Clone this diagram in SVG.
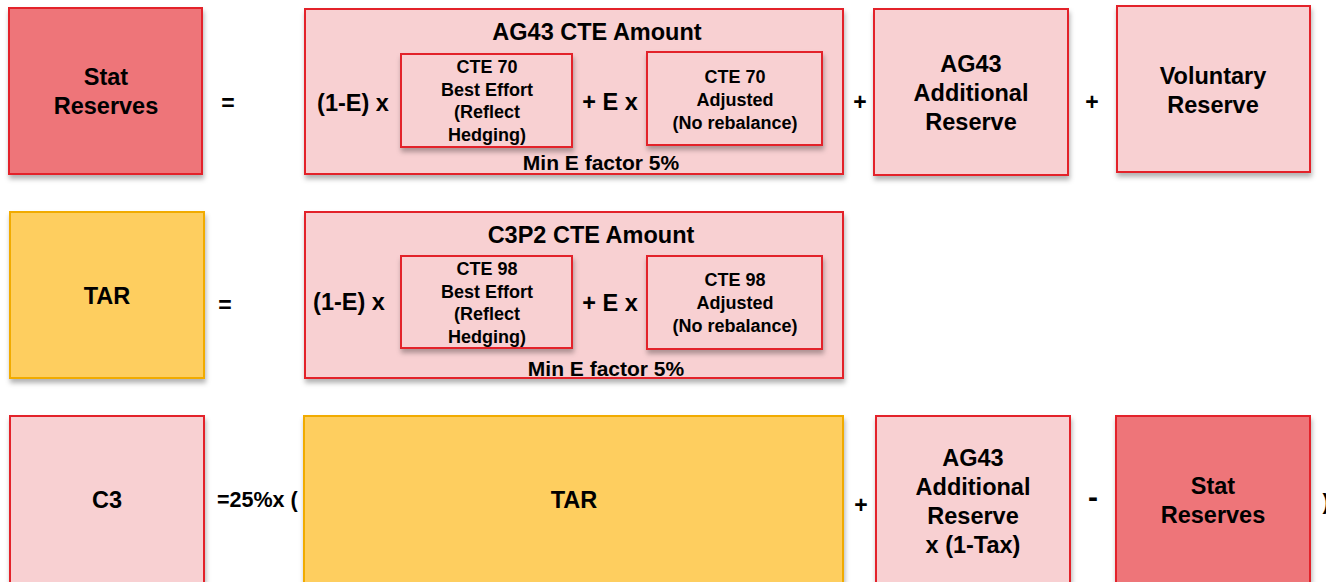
<svg xmlns="http://www.w3.org/2000/svg" width="1326" height="582" viewBox="0 0 1326 582">
<defs>
<filter id="sh" x="-10%" y="-10%" width="120%" height="130%">
<feDropShadow dx="1" dy="4" stdDeviation="2.5" flood-color="#000" flood-opacity="0.3"/>
</filter>
</defs>
<style>
text{font-family:"Liberation Sans",Arial,sans-serif;font-weight:bold;fill:#000;text-anchor:middle}
.dark{fill:#EE7579;stroke:#E3202A;stroke-width:2;filter:url(#sh)}
.light{fill:#F8D0D2;stroke:#E3202A;stroke-width:2;filter:url(#sh)}
.yel{fill:#FECE5F;stroke:#F1AB00;stroke-width:2;filter:url(#sh)}
.big{font-size:23.5px}
.mid{font-size:23.5px}
.sm{font-size:18px}
.min{font-size:21px}
.op{font-size:23px}
</style>
<rect width="1326" height="582" fill="#fff"/>

<!-- Row 1 -->
<g id="stat-reserves-1">
<rect class="dark" x="9" y="8" width="193" height="166"/>
<text class="big" x="106" y="85">Stat</text>
<text class="big" x="106" y="114">Reserves</text>
</g>
<g id="ag43-cte">
<rect class="light" x="305" y="9" width="538" height="165"/>
<text class="big" x="597" y="40">AG43 CTE Amount</text>
<text class="mid" x="353" y="111">(1-E) x</text>
<text class="mid" x="610" y="110">+ E x</text>
<text class="min" x="601" y="170">Min E factor 5%</text>
</g>
<g id="cte70-best">
<rect class="light" x="401" y="54" width="171" height="93"/>
<text class="sm" x="487" y="73">CTE 70</text>
<text class="sm" x="487" y="96">Best Effort</text>
<text class="sm" x="487" y="118">(Reflect</text>
<text class="sm" x="487" y="141">Hedging)</text>
</g>
<g id="cte70-adj">
<rect class="light" x="647" y="52" width="175" height="93"/>
<text class="sm" x="735" y="83">CTE 70</text>
<text class="sm" x="735" y="106">Adjusted</text>
<text class="sm" x="735" y="129">(No rebalance)</text>
</g>
<g id="ag43-additional-1">
<rect class="light" x="874" y="9" width="194" height="166"/>
<text class="big" x="971" y="72">AG43</text>
<text class="big" x="971" y="101">Additional</text>
<text class="big" x="971" y="130">Reserve</text>
</g>
<g id="voluntary-reserve">
<rect class="light" x="1117" y="6" width="193" height="166"/>
<text class="big" x="1213" y="84">Voluntary</text>
<text class="big" x="1213" y="113">Reserve</text>
</g>

<!-- Row 2 -->
<g id="tar-1">
<rect class="yel" x="10" y="212" width="194" height="166"/>
<text class="big" x="107" y="304">TAR</text>
</g>
<g id="c3p2-cte">
<rect class="light" x="305" y="212" width="538" height="166"/>
<text class="big" x="591" y="243">C3P2 CTE Amount</text>
<text class="mid" x="349" y="310">(1-E) x</text>
<text class="mid" x="610" y="311">+ E x</text>
<text class="min" x="606" y="376">Min E factor 5%</text>
</g>
<g id="cte98-best">
<rect class="light" x="401" y="256" width="171" height="92"/>
<text class="sm" x="487" y="275">CTE 98</text>
<text class="sm" x="487" y="298">Best Effort</text>
<text class="sm" x="487" y="320">(Reflect</text>
<text class="sm" x="487" y="343">Hedging)</text>
</g>
<g id="cte98-adj">
<rect class="light" x="647" y="256" width="175" height="93"/>
<text class="sm" x="735" y="286">CTE 98</text>
<text class="sm" x="735" y="309">Adjusted</text>
<text class="sm" x="735" y="332">(No rebalance)</text>
</g>

<!-- Row 3 -->
<g id="c3">
<rect class="light" x="10" y="416" width="194" height="172"/>
<text class="big" x="107" y="508">C3</text>
</g>
<g id="tar-2">
<rect class="yel" x="304" y="416" width="539" height="172"/>
<text class="big" x="574" y="508">TAR</text>
</g>
<g id="ag43-additional-2">
<rect class="light" x="876" y="416" width="194" height="172"/>
<text class="big" x="973" y="466">AG43</text>
<text class="big" x="973" y="495">Additional</text>
<text class="big" x="973" y="524">Reserve</text>
<text class="big" x="973" y="553">x (1-Tax)</text>
</g>
<g id="stat-reserves-2">
<rect class="dark" x="1116" y="416" width="194" height="172"/>
<text class="big" x="1213" y="494">Stat</text>
<text class="big" x="1213" y="523">Reserves</text>
</g>

<!-- Operators -->
<g id="operators">
<text class="op" x="228" y="111">=</text>
<text class="op" x="860" y="110">+</text>
<text class="op" x="1092" y="110">+</text>
<text class="op" x="225" y="313">=</text>
<text style="font-size:21.5px;text-anchor:start" x="217" y="507">=25%x (</text>
<text class="op" x="861" y="513">+</text>
<text style="font-size:30px" x="1093" y="507">-</text>
<text style="font-size:22px;text-anchor:start" x="1322.5" y="509">)</text>
</g>
<g id="connectors"/>
</svg>
